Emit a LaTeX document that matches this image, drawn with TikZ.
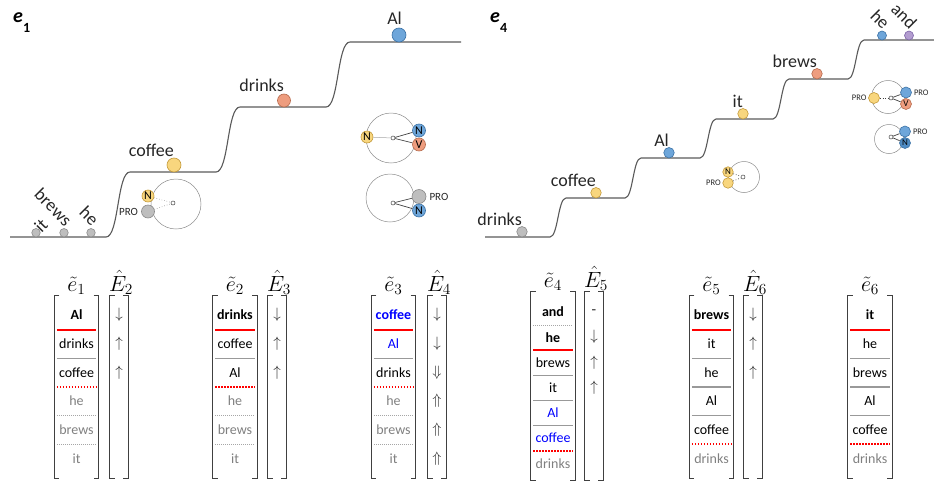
\RequirePackage{fix-cm}
\documentclass[tikz,border=0pt]{standalone}
\usepackage[no-math]{fontspec}
\setmainfont{Carlito}

\definecolor{yelF}{HTML}{F8D67E}\definecolor{yelD}{HTML}{C49A3A}
\definecolor{bluF}{HTML}{6EA6DA}\definecolor{bluD}{HTML}{3B72A6}
\definecolor{redF}{HTML}{EE9D7F}\definecolor{redD}{HTML}{B66A4C}
\definecolor{gryF}{HTML}{BEBEBE}\definecolor{gryD}{HTML}{8A8A8A}
\definecolor{purF}{HTML}{B39DD0}\definecolor{purD}{HTML}{7C63A6}
\definecolor{steelF}{HTML}{4F8CC4}
\definecolor{stairC}{HTML}{5A5A5A}

\newcommand\ballfont{\fontsize{12}{12}\selectfont}
\newcommand\smallballfont{\fontsize{9}{9}\selectfont}
\newcommand\cellfont{\fontsize{14}{16}\selectfont}
\newcommand\matbrackets[1]{%
  \draw[brk] ([xshift=5pt]#1.north west) -- (#1.north west) -- (#1.south west) -- ([xshift=5pt]#1.south west);
  \draw[brk] ([xshift=-5pt]#1.north east) -- (#1.north east) -- (#1.south east) -- ([xshift=-5pt]#1.south east);}

\tikzset{
  stair/.style={draw=stairC, line width=1.1pt},
  ball/.style={circle, inner sep=0pt, line width=0.6pt, text=black},
  ballyel/.style={ball, fill=yelF, draw=yelD},
  ballblu/.style={ball, fill=bluF, draw=bluD},
  ballred/.style={ball, fill=redF, draw=redD},
  ballgry/.style={ball, fill=gryF, draw=gryD},
  ballpur/.style={ball, fill=purF, draw=purD},
  ballsteel/.style={ball, fill=steelF, draw=bluD},
  word/.style={inner sep=0pt, text=black!85, font=\fontsize{18}{20}\selectfont},
  tilt/.style={word, rotate=-45, anchor=east},
  paneltag/.style={inner sep=0pt, anchor=base west, font=\fontsize{20}{22}\selectfont\bfseries\itshape},
  ring/.style={circle, draw=black!45, line width=0.5pt, inner sep=0pt},
  hub/.style={circle, draw=black!75, fill=white, inner sep=0pt, minimum size=4pt, line width=0.5pt},
  link/.style={draw=black!75, line width=0.7pt},
  faintlink/.style={draw=black!35, line width=0.5pt},
  dotlink/.style={draw=black!75, line width=0.7pt, dotted},
  faintdots/.style={draw=black!45, line width=0.6pt, dotted},
  prolbl/.style={inner sep=0pt, text=black!85, font=\fontsize{11}{11}\selectfont},
  prosmall/.style={inner sep=0pt, text=black!85, font=\fontsize{8.5}{9}\selectfont},
  matbox/.style={inner sep=0pt},
  brk/.style={draw=black!75, line width=1.3pt},
  head/.style={inner sep=0pt, anchor=base, font=\fontsize{22}{24}\selectfont},
  cellA/.style={inner sep=0pt, minimum width=39pt, minimum height=28.7pt, font=\cellfont},
  cellB/.style={inner sep=0pt, minimum width=39pt, minimum height=25.2pt, font=\cellfont},
  arrcell/.style={inner sep=0pt, text=black!85, font=\fontsize{15}{16}\selectfont},
  hot/.style={font=\cellfont\bfseries},
  hotblue/.style={font=\cellfont\bfseries, text=blue},
  blu/.style={text=blue},
  cur/.style={text=black},
  old/.style={text=black!50},
  redline/.style={draw=red, line width=2pt},
  grayline/.style={draw=black!40, line width=1.2pt},
  reddots/.style={draw=red, line width=1.8pt, dash pattern=on 1.6pt off 1.4pt},
  graydots/.style={draw=black!35, line width=0.6pt, dash pattern=on 1pt off 1pt}
}

\begin{document}
\begin{tikzpicture}[x=1pt,y=-1pt]
  \useasboundingbox (0,0) rectangle (934,482);

  % e_1 landscape
  \node[paneltag] (tag1) at (13,22) {e\raisebox{-10pt}{\upshape\fontsize{14}{14}\selectfont 1}};
  \draw[stair] (10,237) -- (106,237) .. controls +(13,0) and +(-13,0) .. (130,172)
    -- (216,172) .. controls +(13,0) and +(-13,0) .. (240,107)
    -- (326,107) .. controls +(13,0) and +(-13,0) .. (350,42) -- (461,42);
  \node[ballgry, minimum size=8.5pt] (it1) at (36,232.75) {};
  \node[ballgry, minimum size=8.5pt] (brews1) at (64,232.75) {};
  \node[ballgry, minimum size=8.5pt] (he1) at (91,232.75) {};
  \node[ballyel, minimum size=14pt] (coffee1) at (174,165) {};
  \node[ballred, minimum size=13pt] (drinks1) at (284,100.5) {};
  \node[ballblu, minimum size=14pt] (al1) at (399,35) {};
  \node[word, rotate=45] (itl1) at ([xshift=5pt,yshift=7pt]it1.center) {it};
  \node[tilt] (brewsl1) at ([xshift=5pt,yshift=10pt]brews1.center) {brews};
  \node[tilt] (hel1) at ([xshift=5pt,yshift=10pt]he1.center) {he};
  \node[word, anchor=base east] (coffeel1) at ([yshift=1pt]coffee1.north) {coffee};
  \node[word, anchor=base east] (drinksl1) at ([yshift=2pt]drinks1.north) {drinks};
  \node[word, anchor=base east] (all1) at ([xshift=3pt,yshift=3pt]al1.north) {Al};

  % e_1 icons
  \node[ring, minimum size=50pt] (ring1) at (176,204) {};
  \node[hub] (hub1) at (173,203) {};
  \node[ballyel, minimum size=12pt, font=\ballfont] (n1) at (148,196) {N};
  \node[ballgry, minimum size=13pt] (p1) at (148,211.5) {};
  \node[prolbl, anchor=east] (pl1) at ([xshift=-3pt]p1.west) {PRO};
  \draw[faintdots] (n1) -- (hub1);
  \draw[faintdots] (p1) -- (hub1);

  \node[ring, minimum size=50pt] (ring2) at (391,138) {};
  \node[hub] (hub2) at (393,138) {};
  \node[ballyel, minimum size=12pt, font=\ballfont] (n2) at (367,137) {N};
  \node[ballblu, minimum size=13pt, font=\ballfont] (b2) at (419,130.5) {N};
  \node[ballred, minimum size=13pt, font=\ballfont] (v2) at (419,144.5) {V};
  \draw[faintlink] (n2) -- (hub2);
  \draw[link] (hub2) -- (b2);
  \draw[link] (hub2) -- (v2);

  \node[ring, minimum size=48pt] (ring3) at (390,198) {};
  \node[hub] (hub3) at (393,203) {};
  \node[ballgry, minimum size=14pt] (p3) at (419,196.5) {};
  \node[ballblu, minimum size=13pt, font=\ballfont] (b3) at (419,210.5) {N};
  \node[prolbl, anchor=west] (pl3) at ([xshift=3pt]p3.east) {PRO};
  \draw[link] (hub3) -- (p3);
  \draw[link] (hub3) -- (b3);

  % e_4 landscape
  \node[paneltag] (tag4) at (490,22) {e\raisebox{-10pt}{\upshape\fontsize{14}{14}\selectfont 4}};
  \draw[stair] (485,237) -- (550,237) .. controls +(8,0) and +(-8,0) .. (566,198)
    -- (625,198) .. controls +(8,0) and +(-8,0) .. (641,158)
    -- (700,158) .. controls +(8,0) and +(-8,0) .. (716,119)
    -- (773,119) .. controls +(8,0) and +(-8,0) .. (789,79)
    -- (848,79) .. controls +(8,0) and +(-8,0) .. (864,40) -- (934,40);
  \node[ballgry, minimum size=10.5pt] (drinks4) at (522,231.75) {};
  \node[ballyel, minimum size=10.5pt] (coffee4) at (596,192.75) {};
  \node[ballblu, minimum size=10.5pt] (al4) at (669,152.75) {};
  \node[ballyel, minimum size=10.5pt] (it4) at (743,113.75) {};
  \node[ballred, minimum size=10.5pt] (brews4) at (817,73.75) {};
  \node[ballblu, minimum size=9pt] (he4) at (882,35.5) {};
  \node[ballpur, minimum size=9pt] (and4) at (909,35.5) {};
  \node[word, anchor=base east] (drinksl4) at ([yshift=1pt]drinks4.north) {drinks};
  \node[word, anchor=base east] (coffeel4) at ([yshift=1pt]coffee4.north) {coffee};
  \node[word, anchor=base east] (all4) at ([yshift=1pt]al4.north) {Al};
  \node[word, anchor=base east] (itl4) at ([yshift=1pt]it4.north) {it};
  \node[word, anchor=base east] (brewsl4) at ([yshift=1pt]brews4.north) {brews};
  \node[tilt] (hel4) at ([xshift=5pt,yshift=9.5pt]he4.center) {he};
  \node[tilt] (andl4) at ([xshift=5pt,yshift=9.5pt]and4.center) {and};

  % e_4 icons
  \node[ring, minimum size=31pt] (ring4) at (744,177) {};
  \node[hub] (hub4) at (743,177) {};
  \node[ballyel, minimum size=10.5pt, font=\smallballfont] (n4) at (728,172) {N};
  \node[ballyel, minimum size=10.5pt] (p4) at (728,183) {};
  \node[prosmall, anchor=east] (pl4) at ([xshift=-1.5pt]p4.west) {PRO};
  \draw[dotlink] (n4) -- (hub4);
  \draw[dotlink] (p4) -- (hub4);

  \node[ring, minimum size=33pt] (ring5) at (888,97) {};
  \node[hub] (hub5) at (891,98) {};
  \node[ballyel, minimum size=11pt] (p5) at (874,98) {};
  \node[ballblu, minimum size=11pt] (b5) at (906,92.5) {};
  \node[ballred, minimum size=11pt, font=\smallballfont] (v5) at (906,104) {V};
  \node[prosmall, anchor=east] (pl5) at ([xshift=-1.5pt]p5.west) {PRO};
  \node[prosmall, anchor=west] (pr5) at ([xshift=2pt]b5.east) {PRO};
  \draw[dotlink] (p5) -- (hub5);
  \draw[link] (hub5) -- (b5);
  \draw[link] (hub5) -- (v5);

  \node[ring, minimum size=29pt] (ring6) at (889,139) {};
  \node[hub] (hub6) at (891,137) {};
  \node[ballblu, minimum size=11pt] (b6) at (905,131.5) {};
  \node[ballsteel, minimum size=11pt, font=\smallballfont] (n6) at (905,143) {N};
  \node[prosmall, anchor=west] (pr6) at ([xshift=2pt]b6.east) {PRO};
  \draw[link] (hub6) -- (b6);
  \draw[link] (hub6) -- (n6);

  % orderings and moves
  \node[matbox, minimum width=44pt, minimum height=182pt] (M1) at (76.5,387) {};
  \matbrackets{M1}
  \node[head] (t1) at (76.5,291) {$\tilde{e}_1$};
  \foreach \w/\s [count=\i] in {Al/hot,drinks/cur,coffee/cur,he/old,brews/old,it/old}
    \node[cellA,\s] (m1-\i) at (76.5,{315+28.7*(\i-1)}) {\w};
  \foreach \i/\s in {1/redline,2/grayline,3/reddots,4/graydots,5/graydots}
    \draw[\s] (m1-\i.south west) -- (m1-\i.south east);

  \node[matbox, minimum width=18pt, minimum height=182pt] (E2) at (119,387) {};
  \matbrackets{E2}
  \node[head] (u2) at (121,291) {$\hat{E}_2$};
  \foreach \arw [count=\i] in {\downarrow,\uparrow,\uparrow}
    \node[arrcell] (e2-\i) at (119,{315+28.7*(\i-1)}) {$\arw$};

  \node[matbox, minimum width=44pt, minimum height=182pt] (M2) at (235,387) {};
  \matbrackets{M2}
  \node[head] (t2) at (235,291) {$\tilde{e}_2$};
  \foreach \w/\s [count=\i] in {drinks/hot,coffee/cur,Al/cur,he/old,brews/old,it/old}
    \node[cellA,\s] (m2-\i) at (235,{315+28.7*(\i-1)}) {\w};
  \foreach \i/\s in {1/redline,2/grayline,3/reddots,4/graydots,5/graydots}
    \draw[\s] (m2-\i.south west) -- (m2-\i.south east);

  \node[matbox, minimum width=18pt, minimum height=182pt] (E3) at (277,387) {};
  \matbrackets{E3}
  \node[head] (u3) at (279,291) {$\hat{E}_3$};
  \foreach \arw [count=\i] in {\downarrow,\uparrow,\uparrow}
    \node[arrcell] (e3-\i) at (277,{315+28.7*(\i-1)}) {$\arw$};

  \node[matbox, minimum width=44pt, minimum height=182pt] (M3) at (393.5,387) {};
  \matbrackets{M3}
  \node[head] (t3) at (393.5,291) {$\tilde{e}_3$};
  \foreach \w/\s [count=\i] in {coffee/hotblue,Al/blu,drinks/cur,he/old,brews/old,it/old}
    \node[cellA,\s] (m3-\i) at (393.5,{315+28.7*(\i-1)}) {\w};
  \foreach \i/\s in {1/redline,2/grayline,3/reddots,4/graydots,5/graydots}
    \draw[\s] (m3-\i.south west) -- (m3-\i.south east);

  \node[matbox, minimum width=18pt, minimum height=182pt] (E4) at (437,387) {};
  \matbrackets{E4}
  \node[head] (u4) at (439,291) {$\hat{E}_4$};
  \foreach \arw [count=\i] in {\downarrow,\downarrow,\Downarrow,\Uparrow,\Uparrow,\Uparrow}
    \node[arrcell] (e4-\i) at (437,{315+28.7*(\i-1)}) {$\arw$};

  \node[matbox, minimum width=44pt, minimum height=188pt] (M4) at (553,386) {};
  \matbrackets{M4}
  \node[head] (t4) at (553,287) {$\tilde{e}_4$};
  \foreach \w/\s [count=\i] in {and/hot,he/hot,brews/cur,it/cur,Al/blu,coffee/blu,drinks/old}
    \node[cellB,\s] (m4-\i) at (553,{312+25.2*(\i-1)}) {\w};
  \foreach \i/\s in {1/graydots,2/redline,3/grayline,4/grayline,5/grayline,6/reddots}
    \draw[\s] (m4-\i.south west) -- (m4-\i.south east);

  \node[matbox, minimum width=18pt, minimum height=188pt] (E5) at (594,386) {};
  \matbrackets{E5}
  \node[head] (u5) at (596,287) {$\hat{E}_5$};
  \foreach \arw [count=\i] in {\mbox{-},\downarrow,\uparrow,\uparrow}
    \node[arrcell] (e5-\i) at (594,{312+25.2*(\i-1)}) {$\arw$};

  \node[matbox, minimum width=44pt, minimum height=182pt] (M5) at (711.5,387) {};
  \matbrackets{M5}
  \node[head] (t5) at (711.5,291) {$\tilde{e}_5$};
  \foreach \w/\s [count=\i] in {brews/hot,it/cur,he/cur,Al/cur,coffee/cur,drinks/old}
    \node[cellA,\s] (m5-\i) at (711.5,{315+28.7*(\i-1)}) {\w};
  \foreach \i/\s in {1/redline,2/grayline,3/grayline,4/grayline,5/reddots}
    \draw[\s] (m5-\i.south west) -- (m5-\i.south east);

  \node[matbox, minimum width=18pt, minimum height=182pt] (E6) at (753,387) {};
  \matbrackets{E6}
  \node[head] (u6) at (755,291) {$\hat{E}_6$};
  \foreach \arw [count=\i] in {\downarrow,\uparrow,\uparrow}
    \node[arrcell] (e6-\i) at (753,{315+28.7*(\i-1)}) {$\arw$};

  \node[matbox, minimum width=44pt, minimum height=182pt] (M6) at (870,387) {};
  \matbrackets{M6}
  \node[head] (t6) at (870,291) {$\tilde{e}_6$};
  \foreach \w/\s [count=\i] in {it/hot,he/cur,brews/cur,Al/cur,coffee/cur,drinks/old}
    \node[cellA,\s] (m6-\i) at (870,{315+28.7*(\i-1)}) {\w};
  \foreach \i/\s in {1/redline,2/grayline,3/grayline,4/grayline,5/reddots}
    \draw[\s] (m6-\i.south west) -- (m6-\i.south east);
\end{tikzpicture}
\end{document}
